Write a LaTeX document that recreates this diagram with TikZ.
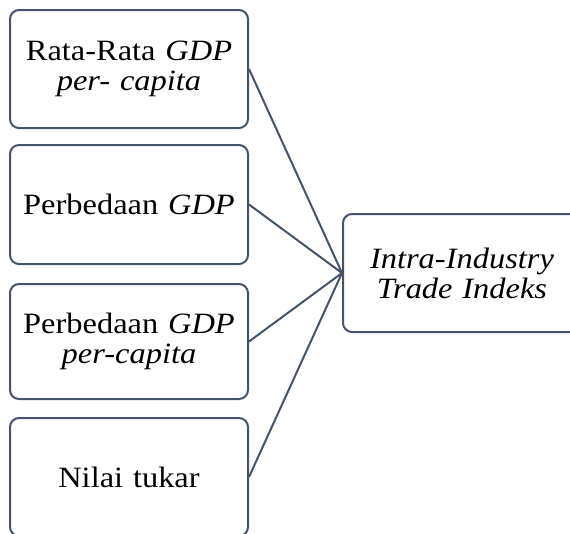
\documentclass[tikz,border=0pt]{standalone}
\usepackage{fontspec}
\setmainfont[FakeStretch=1.1]{Liberation Serif}
\begin{document}
\begin{tikzpicture}[x=1pt,y=-1pt,
  box/.style={draw=edgecol, line width=2pt, rounded corners=9pt, fill=white,
    minimum width=238pt, text width=220pt, align=center, inner sep=0pt,
    font=\fontsize{29.5}{30}\selectfont},
  link/.style={draw=edgecol, line width=2pt}]
\definecolor{edgecol}{HTML}{44546A}
\useasboundingbox (0,0) rectangle (570,533);
\node[box, minimum height=118pt] (b1) at (129,69) {Rata-Rata \textit{GDP}\\\textit{per- capita}};
\node[box, minimum height=119pt] (b2) at (129,204.5) {Perbedaan \textit{GDP}};
\node[box, minimum height=115pt] (b3) at (129,341.5) {Perbedaan \textit{GDP}\\\textit{per-capita}};
\node[box, minimum height=118pt] (b4) at (129,477) {Nilai tukar};
\node[box, minimum height=118pt] (r) at (462,273) {\textit{Intra-Industry}\\\textit{Trade Indeks}};
\draw[link] (b1.east) -- (r.west);
\draw[link] (b2.east) -- (r.west);
\draw[link] (b3.east) -- (r.west);
\draw[link] (b4.east) -- (r.west);
\end{tikzpicture}
\end{document}
